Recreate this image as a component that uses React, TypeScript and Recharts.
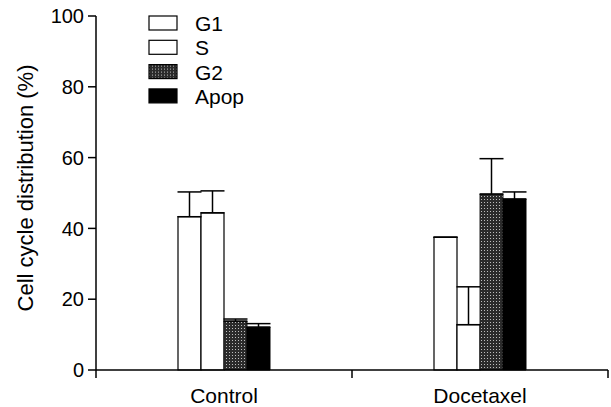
import { Bar, BarChart, ErrorBar, Label, Legend, XAxis, YAxis } from "recharts"

const categories = ["Control", "Docetaxel"]
const g1 = [43.3, 37.5]
const g1Err = [7, 0]
const s = [44.4, 12.8]
const sErr = [6.2, 10.7]
const g2 = [13.8, 49.7]
const g2Err = [0.6, 10]
const apop = [12.1, 48.3]
const apopErr = [1, 2]
const yTicks = [0, 20, 40, 60, 80, 100]

const data = categories.map((name, i) => ({
  name,
  g1: g1[i],
  g1Err: [0, g1Err[i]],
  s: s[i],
  sErr: [0, sErr[i]],
  g2: g2[i],
  g2Err: [0, g2Err[i]],
  apop: apop[i],
  apopErr: [0, apopErr[i]],
}))

const font = "'Liberation Sans', Arial, Helvetica, sans-serif"

const legendItems = [
  { label: "G1", fill: "#fff" },
  { label: "S", fill: "#fff" },
  { label: "G2", fill: "url(#stippleLegend)" },
  { label: "Apop", fill: "#000" },
]

function Stipple({ id }: { id: string }) {
  return (
    <pattern id={id} width="3" height="3" patternUnits="userSpaceOnUse">
      <rect width="3" height="3" fill="#2b2b2b" />
      <rect x="1" y="1" width="1" height="1" fill="#bdbdbd" />
    </pattern>
  )
}

function LegendBox() {
  return (
    <svg width={120} height={100}>
      <defs>
        <Stipple id="stippleLegend" />
      </defs>
      {legendItems.map((it, i) => (
        <g key={it.label} transform={`translate(0, ${i * 24.3})`}>
          <rect x={1} y={3} width={28} height={14} fill={it.fill} stroke="#000" strokeWidth={1.2} />
          <text x={47} y={18} fontSize={21} fontFamily={font} fill="#000">
            {it.label}
          </text>
        </g>
      ))}
    </svg>
  )
}

function XTick(props: any) {
  const { x, y, payload, index } = props
  const half = 128
  return (
    <g>
      {index === 0 && <line x1={x - half} x2={x - half} y1={y} y2={y + 8} stroke="#000" strokeWidth={1.5} />}
      <line x1={x + half} x2={x + half} y1={y} y2={y + 8} stroke="#000" strokeWidth={1.5} />
      <text x={x} y={y + 33} textAnchor="middle" fontSize={21} fontFamily={font} fill="#000">
        {payload.value}
      </text>
    </g>
  )
}

export default function App() {
  return (
    <div style={{ position: "absolute", left: 0, top: 0, background: "#fff" }}>
      <BarChart
        width={611}
        height={407}
        data={data}
        margin={{ top: 16, right: 3, bottom: 7, left: 0 }}
        barCategoryGap={82}
        barGap={0}
      >
        <defs>
          <Stipple id="stipple" />
        </defs>
        <XAxis
          dataKey="name"
          height={30}
          tickLine={false}
          tickSize={0}
          tickMargin={0}
          axisLine={{ stroke: "#000", strokeWidth: 1.5 }}
          tick={<XTick />}
          interval={0}
        />
        <YAxis
          width={96}
          domain={[0, 100]}
          ticks={yTicks}
          tickSize={8}
          tickMargin={4}
          axisLine={{ stroke: "#000", strokeWidth: 1.5 }}
          tickLine={{ stroke: "#000", strokeWidth: 1.5 }}
          tick={{ fill: "#000", fontSize: 20, fontFamily: font }}
        >
          <Label
            value="Cell cycle distribution (%)"
            angle={-90}
            position="center"
            dx={-23}
            dy={-5}
            style={{ fontSize: 22, fontFamily: font, fill: "#000" }}
          />
        </YAxis>
        <Legend
          layout="vertical"
          align="center"
          verticalAlign="middle"
          wrapperStyle={{ top: 13, left: 148, width: 120 }}
          content={() => <LegendBox />}
        />
        <Bar dataKey="g1" fill="#fff" stroke="#000" strokeWidth={1.2} isAnimationActive={false}>
          <ErrorBar dataKey="g1Err" width={12} stroke="#000" strokeWidth={1.5} />
        </Bar>
        <Bar dataKey="s" fill="#fff" stroke="#000" strokeWidth={1.2} isAnimationActive={false}>
          <ErrorBar dataKey="sErr" width={12} stroke="#000" strokeWidth={1.5} />
        </Bar>
        <Bar dataKey="g2" fill="url(#stipple)" stroke="#222" strokeWidth={1} isAnimationActive={false}>
          <ErrorBar dataKey="g2Err" width={12} stroke="#000" strokeWidth={1.5} />
        </Bar>
        <Bar dataKey="apop" fill="#000" stroke="#000" strokeWidth={1} isAnimationActive={false}>
          <ErrorBar dataKey="apopErr" width={12} stroke="#000" strokeWidth={1.5} />
        </Bar>
      </BarChart>
    </div>
  )
}
